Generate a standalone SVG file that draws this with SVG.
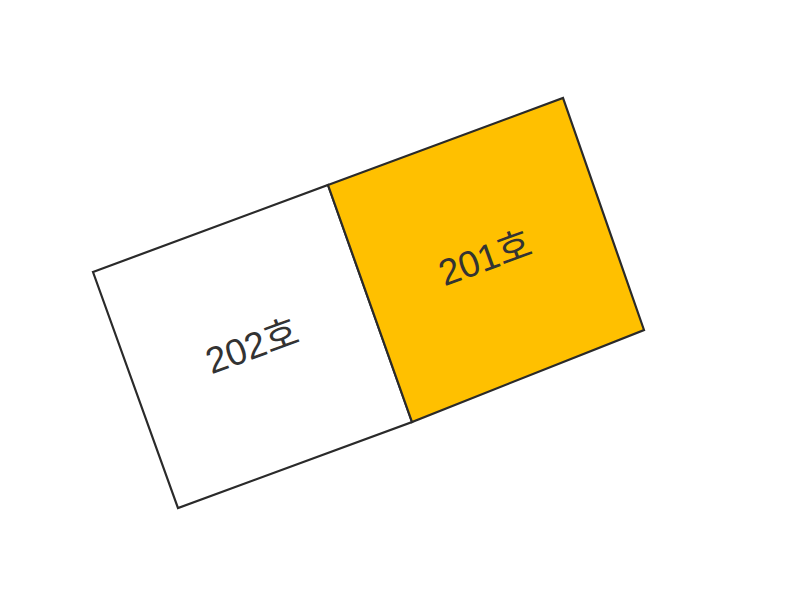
<svg xmlns="http://www.w3.org/2000/svg" width="800" height="600" viewBox="0 0 800 600">
<style>
.room{stroke:#2a2a2a;stroke-width:2.2;stroke-linejoin:miter}
.lbl{font-family:"Liberation Sans","Noto Sans CJK KR",sans-serif;font-size:37px;fill:#333;text-anchor:middle}
</style>
<rect width="800" height="600" fill="#ffffff"/>
<g id="room202">
<polygon class="room" fill="#ffffff" points="93,272 328,185 412,422 178,508"/>
<text class="lbl" transform="translate(252,346) rotate(-20)" y="13">202호</text>
</g>
<g id="room201">
<polygon class="room" fill="#FFC000" points="328,185 563,98 644,330 412,422"/>
<text class="lbl" transform="translate(485,258) rotate(-20)" y="13">201호</text>
</g>
<g id="connectors"></g>
</svg>
